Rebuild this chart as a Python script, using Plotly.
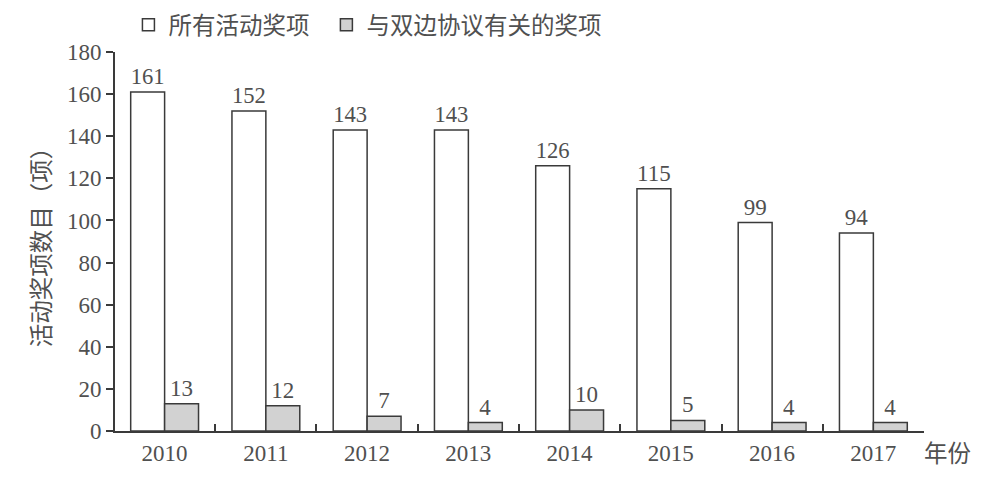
import plotly.graph_objects as go

years = ["2010", "2011", "2012", "2013", "2014", "2015", "2016", "2017"]
all_awards = [161, 152, 143, 143, 126, 115, 99, 94]
bilateral_awards = [13, 12, 7, 4, 10, 5, 4, 4]
y_ticks = [0, 20, 40, 60, 80, 100, 120, 140, 160, 180]

FONT = "Liberation Serif, Noto Sans CJK SC, serif"
CJK = "Noto Sans CJK SC"
TXT = "#505050"
LINE = "#3a3a3a"
NUM = 23
CJK_SIZE = 23.5

fig = go.Figure()
fig.add_trace(go.Bar(
    x=years, y=all_awards, name="所有活动奖项", legend="legend",
    marker=dict(color="white", line=dict(color=LINE, width=1.5)),
    text=all_awards, textposition="outside", cliponaxis=False,
    textfont=dict(size=NUM, color=TXT, family=FONT),
))
fig.add_trace(go.Bar(
    x=years, y=bilateral_awards, name="与双边协议有关的奖项", legend="legend2",
    marker=dict(color="#d2d2d2", line=dict(color=LINE, width=1.5)),
    text=bilateral_awards, textposition="outside", cliponaxis=False,
    textfont=dict(size=NUM, color=TXT, family=FONT),
))

legend_common = dict(orientation="h", y=1.071, xanchor="left", yanchor="middle",
                     font=dict(size=CJK_SIZE, color=TXT, family=CJK),
                     itemwidth=30, bgcolor="rgba(0,0,0,0)")

# page body has an 8px default margin; size the figure so it fills the window exactly
fig.update_layout(
    width=972, height=461,
    paper_bgcolor="white", plot_bgcolor="white",
    margin=dict(l=107, r=56, t=44, b=38, autoexpand=False),
    barmode="group", bargap=0.33, bargroupgap=0,
    font=dict(family=FONT, size=NUM, color=TXT),
    showlegend=True,
    legend=dict(x=0.0166, **legend_common),
    legend2=dict(x=0.2613, **legend_common),
    xaxis=dict(
        type="category", range=[-0.49, 7.5], automargin=False,
        showline=True, linecolor=LINE, linewidth=2,
        ticks="inside", tickson="boundaries", ticklen=7, tickwidth=2, tickcolor=LINE,
        tickfont=dict(size=NUM, color=TXT), ticklabelstandoff=0,
        showgrid=False, zeroline=False,
    ),
    yaxis=dict(
        range=[0, 180], tickvals=y_ticks, automargin=False,
        showline=True, linecolor=LINE, linewidth=2,
        ticks="outside", ticklen=7, tickwidth=2, tickcolor=LINE,
        tickfont=dict(size=NUM, color=TXT), showgrid=False, zeroline=False,
        title=dict(text="活动奖项数目（项）",
                   font=dict(size=CJK_SIZE, color=TXT, family=CJK), standoff=10),
    ),
    annotations=[dict(
        text="年份", xref="paper", yref="paper", x=1.0, y=0, xanchor="left", yanchor="middle",
        xshift=-2, yshift=-21, showarrow=False,
        font=dict(size=CJK_SIZE, color=TXT, family=CJK),
    )],
)

fig.write_html("out.html")
